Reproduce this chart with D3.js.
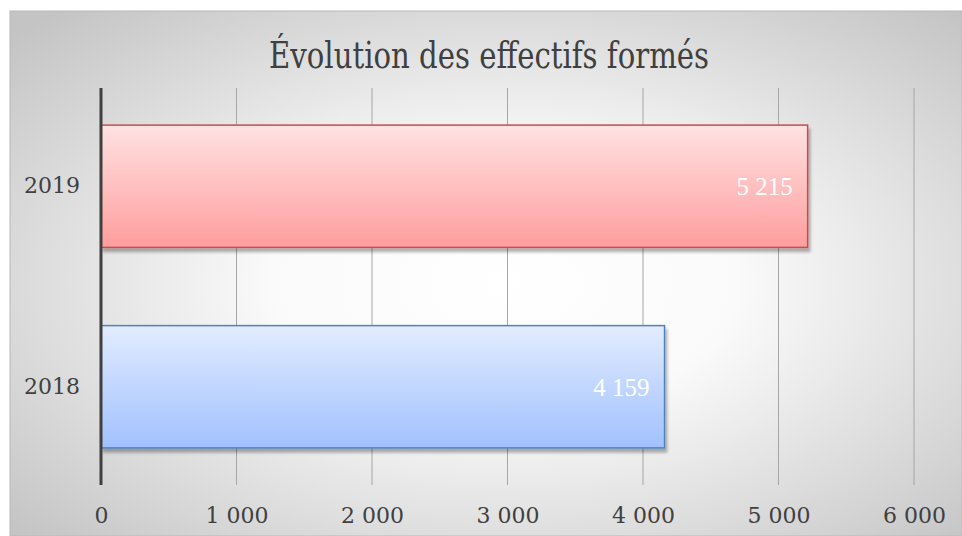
<!DOCTYPE html>
<html>
<head>
<meta charset="utf-8">
<script src="https://cdn.jsdelivr.net/npm/d3@7"></script>
<style>
  body { margin: 0; background: #fff; }
  text { font-family: "DejaVu Serif", "Liberation Serif", serif; }
</style>
</head>
<body>
<div id="chart"></div>
<script>
// data
var years = ["2019", "2018"];
var effectifs = [5215, 4159];
var xTicks = [0, 1000, 2000, 3000, 4000, 5000, 6000];
var titre = "Évolution des effectifs formés";

var W = 962, H = 536;
var margin = {top: 88, right: 48, bottom: 51, left: 101},
    width = W - margin.left - margin.right,
    height = H - margin.top - margin.bottom;

var svg = d3.select("#chart").append("svg")
  .attr("width", W).attr("height", H);

var defs = svg.append("defs");

// background radial gradient
var bg = defs.append("radialGradient").attr("id", "bg")
  .attr("cx", "52%").attr("cy", "52%").attr("r", "70%");
bg.append("stop").attr("offset", "0%").attr("stop-color", "#ffffff");
bg.append("stop").attr("offset", "35%").attr("stop-color", "#fafafa");
bg.append("stop").attr("offset", "100%").attr("stop-color", "#c4c4c4");

// bar gradients
var gRed = defs.append("linearGradient").attr("id", "gRed").attr("x1", 0).attr("y1", 0).attr("x2", 0).attr("y2", 1);
gRed.append("stop").attr("offset", "0%").attr("stop-color", "#ffe2e2");
gRed.append("stop").attr("offset", "100%").attr("stop-color", "#ff9d9d");
var gBlue = defs.append("linearGradient").attr("id", "gBlue").attr("x1", 0).attr("y1", 0).attr("x2", 0).attr("y2", 1);
gBlue.append("stop").attr("offset", "0%").attr("stop-color", "#e2ecff");
gBlue.append("stop").attr("offset", "100%").attr("stop-color", "#a1c1ff");

var shadow = defs.append("filter").attr("id", "shadow")
  .attr("x", "-5%").attr("y", "-5%").attr("width", "115%").attr("height", "130%");
shadow.append("feDropShadow").attr("dx", 2).attr("dy", 4).attr("stdDeviation", 1.5)
  .attr("flood-color", "#000").attr("flood-opacity", 0.3);

svg.append("rect")
  .attr("x", 10).attr("y", 11).attr("width", W - 10).attr("height", H - 11)
  .attr("fill", "url(#bg)")
  .attr("stroke", "#b8b8b8").attr("stroke-width", 1);

// title: the original face is a narrow serif, so squeeze it to the same width
svg.append("text")
  .attr("x", 489).attr("y", 68)
  .attr("text-anchor", "middle")
  .attr("font-size", "37px")
  .attr("fill", "#404040")
  .attr("textLength", 440)
  .attr("lengthAdjust", "spacingAndGlyphs")
  .text(titre);

var g = svg.append("g")
  .attr("transform", "translate(" + margin.left + "," + margin.top + ")");

var x = d3.scaleLinear().domain([0, 6000]).range([0, width]);
var y = d3.scaleBand().domain(years).range([0, height]).paddingInner(0.39).paddingOuter(0.185);

// vertical gridlines
g.selectAll(".grid")
  .data(xTicks.slice(1)).enter()
  .append("line")
  .attr("x1", function(d) { return x(d); })
  .attr("x2", function(d) { return x(d); })
  .attr("y1", 0).attr("y2", height)
  .attr("stroke", "#a6a6a6").attr("stroke-width", 1);

// x axis labels
var fmt = function(d) { return d3.format(",")(d).replace(/,/g, " "); };
var xAxis = g.append("g")
  .attr("transform", "translate(0," + height + ")")
  .call(d3.axisBottom(x).tickValues(xTicks).tickFormat(fmt).tickSize(0).tickPadding(22));
xAxis.select(".domain").remove();
xAxis.selectAll("text").attr("font-size", "22px").attr("fill", "#404040")
  .style("font-family", "'DejaVu Serif', serif");

// bars
var colors = {"2019": {fill: "url(#gRed)", stroke: "#c0504d"}, "2018": {fill: "url(#gBlue)", stroke: "#4f81bd"}};
g.selectAll(".bar")
  .data(years).enter()
  .append("rect")
  .attr("x", x(0))
  .attr("y", function(d) { return y(d); })
  .attr("width", function(d, i) { return x(effectifs[i]) - x(0); })
  .attr("height", y.bandwidth())
  .attr("fill", function(d) { return colors[d].fill; })
  .attr("stroke", function(d) { return colors[d].stroke; })
  .attr("stroke-width", 1.5)
  .attr("filter", "url(#shadow)");

// value labels
g.selectAll(".lbl")
  .data(years).enter()
  .append("text")
  .attr("x", function(d, i) { return x(effectifs[i]) - 15; })
  .attr("y", function(d) { return y(d) + y.bandwidth() / 2; })
  .attr("dy", "0.35em")
  .attr("text-anchor", "end")
  .attr("font-size", "25px")
  .attr("fill", "#ffffff")
  .style("font-family", "'Liberation Serif', serif")
  .text(function(d, i) { return fmt(effectifs[i]); });

// y axis
var yAxis = g.append("g")
  .call(d3.axisLeft(y).tickSize(0).tickPadding(21));
yAxis.select(".domain").remove();
yAxis.selectAll("text").attr("font-size", "22px").attr("fill", "#404040")
  .style("font-family", "'DejaVu Serif', serif");

g.append("line")
  .attr("x1", 0).attr("x2", 0).attr("y1", 0).attr("y2", height)
  .attr("stroke", "#404040").attr("stroke-width", 3);
</script>
</body>
</html>
